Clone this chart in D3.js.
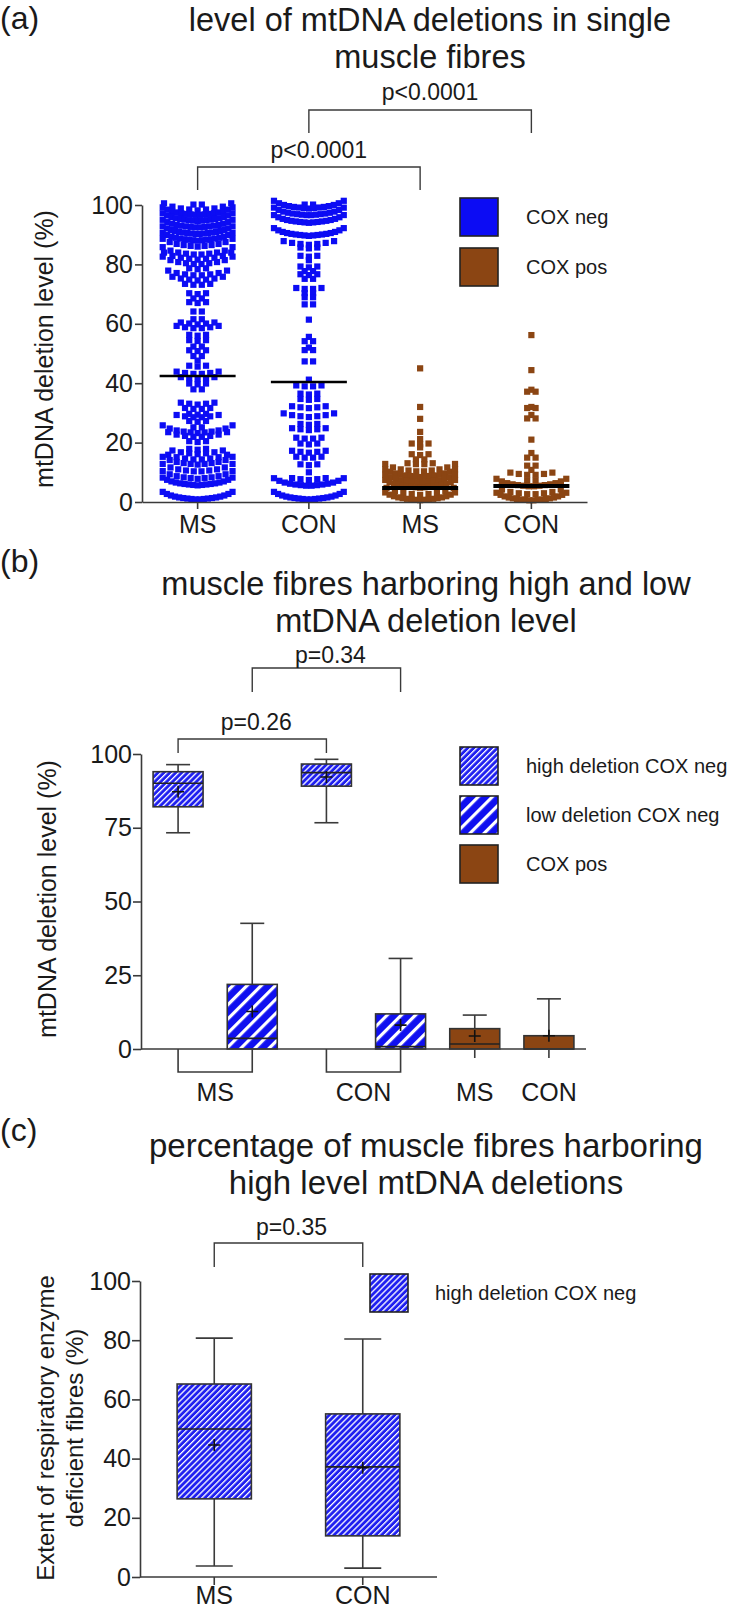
<!DOCTYPE html>
<html><head><meta charset="utf-8">
<script src="https://cdn.jsdelivr.net/npm/d3@7"></script>
<style>
body{margin:0;background:#fff}
text{font-family:"Liberation Sans",Arial,Helvetica,sans-serif;fill:#1a1a1a}
</style>
</head><body>
<svg id="c" width="741" height="1614"></svg>
<script>
// ---------------- DATA ----------------
// Panel (a): column scatter, rows as [deletion level %, number of fibres in the row]
const catsA = ["MS","CON","MS","CON"];
const seriesA = ["COX neg","COX neg","COX pos","COX pos"];
const msNeg = [[100,2],[98.2,9],[96.6,16],[94.6,17],[92.4,16],[90.2,18],[88,17],[86,11],
  [83.2,10],[81.6,9],[80,10],[78.4,3],[76.2,8],[74.6,7],[73,4],[70,3],[68.4,2],[67,3],[64,2],[61.4,2],
  [59.8,5],[58.4,6],[56,3],[54.2,3],[52.2,2],[50.8,3],[49,2],[47.6,1],[45.6,3],[43,6],[41.4,5],[39.6,3],[37.8,2],
  [32.8,5],[31.2,4],[29.4,3],[28.4,6],[27,3],[25,2],[23.2,11],[21.8,8],[20.2,3],[17.6,3],[16.1,7],[14.2,8],
  [12.6,11],[10.2,10],[7.8,11],[5.6,17],[0.8,18]];
const conNeg = [[100,2],[98.8,15],[96.5,16],[94,17],[89.6,17],[86.6,7],[85.4,3],[82.6,3],[81.4,1],[79,3],
  [77.6,2],[76.4,3],[75,2],[71.6,4],[70.2,2],[68.8,2],[66.4,2],[61.4,1],[55.6,1],[54,2],[52,1],[51,2],[47.2,2],
  [41.2,1],[38.8,4],[36.2,3],[34.4,3],[31.6,5],[28.6,7],[26,3],[24.2,5],[21.2,4],[19.4,3],[16.6,5],[14.8,4],
  [12.4,3],[10,1],[7.4,5],[5.4,14],[0.8,18]];
const msPos = [[45,1],[32,1],[28,1],[23.6,1],[21.2,1],[19.4,3],[18.4,1],[15.8,3],[14.2,2],[12.6,4],[10.2,10],
  [8.4,15],[6.6,14],[4.8,17],[2.4,9],[0.6,17]];
const conPos = [[56.2,1],[44.4,1],[37.8,1],[37,2],[32,1],[31.5,2],[29.3,1],[28,2],[21,1],[16.5,1],[14.8,2],
  [12.1,2],[10.8,1],[9,6],[7,2],[5.2,14],[2.5,8],[0.5,18]];
const meansA = [42.4, 40.4, 4.7, 5.4];
const ticksA = [0,20,40,60,80,100];
const legendA = ["COX neg","COX pos"];
const compA = [[1,3,"p<0.0001"],[0,2,"p<0.0001"]];

// Panel (b): box plots
const seriesB = ["high deletion COX neg","low deletion COX neg","high deletion COX neg","low deletion COX neg","COX pos","COX pos"];
const bMin  = [73.3, 0,    76.7, 0,    0,   0];
const bQ1   = [82.1, 0,    89.1, 0,    0,   0];
const bMed  = [90.1, 3.6,  93.7, 0.8,  1.7, 0];
const bQ3   = [94.0, 21.9, 96.6, 11.9, 6.9, 4.5];
const bMax  = [96.4, 42.6, 98.2, 30.7, 11.5,17.0];
const bMean = [87.2, 12.7, 92.2, 8.1,  4.4, 4.5];
const labelsB = ["MS","CON","MS","CON"];
const groupsB = [[0,1],[2,3],[4],[5]];
const ticksB = [0,25,50,75,100];
const legendB = ["high deletion COX neg","low deletion COX neg","COX pos"];
const compB = [[1,3,"p=0.34"],[0,2,"p=0.26"]];

// Panel (c): box plots
const catsC = ["MS","CON"];
const cMin  = [3.7, 3.0];
const cQ1   = [26.4, 13.9];
const cMed  = [50.0, 37.2];
const cQ3   = [65.2, 55.1];
const cMax  = [80.7, 80.4];
const cMean = [44.6, 36.9];
const ticksC = [0,20,40,60,80,100];
const legendC = ["high deletion COX neg"];
const compC = [[0,1,"p=0.35"]];

// ---------------- DRAWING ----------------
const svg = d3.select("#c");
const BLUE = "#0c0cf4", BROWN = "#8b4513", AX = "#3a3a3a";
const defs = svg.append("defs");
function hatch(id, size, sw, col){
  const p = defs.append("pattern").attr("id",id).attr("patternUnits","userSpaceOnUse")
    .attr("width",size).attr("height",size).attr("patternTransform","rotate(45)");
  p.append("rect").attr("width",size).attr("height",size).attr("fill",col);
  p.append("rect").attr("x",0).attr("y",0).attr("width",sw).attr("height",size).attr("fill","#fff");
}
hatch("fine", 4.2, 1.3, "#1f1ff0");
hatch("coarse", 10, 3.2, "#1010f0");
const fillOf = s => s.startsWith("high") ? "url(#fine)" : s.startsWith("low") ? "url(#coarse)" : BROWN;
const colorA = s => s === "COX neg" ? BLUE : BROWN;

function title(lines, cx, y0, fs, label, ly){
  svg.append("text").attr("x",0).attr("y",ly).attr("font-size",32).text(label);
  lines.forEach((t,i)=>svg.append("text").attr("x",cx).attr("y",y0+i*37)
    .attr("text-anchor","middle").attr("font-size",fs).text(t));
}
function styleAxis(g){
  g.selectAll("path,line").attr("stroke",AX).attr("stroke-width",1.6);
  g.selectAll("text").attr("font-size",25).attr("fill","#1a1a1a").attr("font-family",'"Liberation Sans",Arial,sans-serif');
}
function yTitle(lines, x, y, fs){
  lines.forEach((t,i)=>svg.append("text")
    .attr("transform",`translate(${x+i*29},${y}) rotate(-90)`)
    .attr("text-anchor","middle").attr("dy","0.35em").attr("font-size",fs).text(t));
}
function bracket(x1,x2,yTop,yLeg,label,ty,dx){
  svg.append("path").attr("d",`M${x1},${yLeg}V${yTop}H${x2}V${yLeg}`)
    .attr("fill","none").attr("stroke",AX).attr("stroke-width",1.4);
  svg.append("text").attr("x",(x1+x2)/2+dx).attr("y",ty).attr("text-anchor","middle")
    .attr("font-size",23).text(label);
}
function plus(cx,cy){
  svg.append("path").attr("d",`M${cx-6},${cy}H${cx+6}M${cx},${cy-6}V${cy+6}`)
    .attr("stroke","#111").attr("stroke-width",1.6);
}
function boxes(x, y, idx, mn,q1,md,q3,mx,mean, fills, capW){
  idx.forEach(i=>{
    const cx = x(i)+x.bandwidth()/2, bw = x.bandwidth();
    svg.append("line").attr("x1",cx).attr("x2",cx).attr("y1",y(q3[i])).attr("y2",y(mx[i])).attr("stroke",AX).attr("stroke-width",1.6);
    svg.append("line").attr("x1",cx-capW/2).attr("x2",cx+capW/2).attr("y1",y(mx[i])).attr("y2",y(mx[i])).attr("stroke",AX).attr("stroke-width",1.6);
    if (mn[i] < q1[i]) {
      svg.append("line").attr("x1",cx).attr("x2",cx).attr("y1",y(q1[i])).attr("y2",y(mn[i])).attr("stroke",AX).attr("stroke-width",1.6);
      svg.append("line").attr("x1",cx-capW/2).attr("x2",cx+capW/2).attr("y1",y(mn[i])).attr("y2",y(mn[i])).attr("stroke",AX).attr("stroke-width",1.6);
    }
    svg.append("rect").attr("x",x(i)).attr("y",y(q3[i])).attr("width",bw).attr("height",y(q1[i])-y(q3[i]))
      .attr("fill",fills[i]).attr("stroke","#333").attr("stroke-width",1.6);
    svg.append("line").attr("x1",x(i)).attr("x2",x(i)+bw).attr("y1",y(md[i])).attr("y2",y(md[i])).attr("stroke","#222").attr("stroke-width",1.6);
    plus(cx, y(mean[i]));
  });
}
function legend(items, fills, x, y0, step, tx){
  items.forEach((t,i)=>{
    svg.append("rect").attr("x",x).attr("y",y0+i*step).attr("width",38).attr("height",38)
      .attr("fill",fills[i]).attr("stroke","#222").attr("stroke-width",1.6);
    svg.append("text").attr("x",tx).attr("y",y0+i*step+26).attr("font-size",20).text(t);
  });
}

// ===== Panel (a) =====
title(["level of mtDNA deletions in single","muscle fibres"], 430, 31, 32.5, "(a)", 29);
const yA = d3.scaleLinear([0,100],[502,205]);
const xA = d3.scaleBand(d3.range(catsA.length),[142,587]);
const colsA = [msNeg, conNeg, msPos, conPos];
colsA.forEach((pairs,ci)=>{
  const cx = xA(ci)+xA.bandwidth()/2;
  const size = 6.2;
  const maxW = 76, half = maxW/2;
  const g = svg.append("g");
  pairs.forEach(([v,n])=>{
    const sp = n>1 ? Math.min(size+2.2,(maxW-size)/(n-1)) : 0;
    for(let k=0;k<n;k++){
      const off=(k-(n-1)/2)*sp;
      const u=Math.abs(off)/half;
      const tilt=Math.abs(off)*0.1 + 6*Math.pow(u,4);
      g.append("rect").attr("x",cx+off-size/2).attr("y",yA(v)-size/2-tilt)
        .attr("width",size).attr("height",size).attr("fill",colorA(seriesA[ci]));
    }
  });
  svg.append("line").attr("x1",cx-38).attr("x2",cx+38).attr("y1",yA(meansA[ci])).attr("y2",yA(meansA[ci]))
    .attr("stroke","#000").attr("stroke-width",seriesA[ci]==="COX neg"?2.5:4);
});
const gAy = svg.append("g").attr("transform","translate(142,0)")
  .call(d3.axisLeft(yA).tickValues(ticksA).tickSize(7).tickPadding(2).tickSizeOuter(0));
styleAxis(gAy);
const gAx = svg.append("g").attr("transform","translate(0,502)")
  .call(d3.axisBottom(xA).tickFormat(i=>catsA[i]).tickSize(7).tickPadding(6).tickSizeOuter(0));
styleAxis(gAx);
yTitle(["mtDNA deletion level (%)"], 44, 349, 25);
legend(legendA, legendA.map(colorA), 460, 198, 50, 526);
const levelsA = [[110,133,100],[167,190,158]];
compA.forEach(([a,b,l],i)=>bracket(xA(a)+xA.bandwidth()/2, xA(b)+xA.bandwidth()/2, levelsA[i][0], levelsA[i][1], l, levelsA[i][2], 10));

// ===== Panel (b) =====
title(["muscle fibres harboring high and low","mtDNA deletion level"], 426, 595, 32.5, "(b)", 572);
const yB = d3.scaleLinear([0,100],[1049,754]);
const xB = d3.scaleBand(d3.range(seriesB.length),[141,586]).paddingInner(0.326).paddingOuter(0.163);
boxes(xB, yB, d3.range(seriesB.length), bMin,bQ1,bMed,bQ3,bMax,bMean, seriesB.map(fillOf), 24);
const gBy = svg.append("g").attr("transform","translate(141,0)")
  .call(d3.axisLeft(yB).tickValues(ticksB).tickSize(8).tickPadding(1).tickSizeOuter(0));
styleAxis(gBy);
svg.append("line").attr("x1",141).attr("x2",586).attr("y1",yB(0)).attr("y2",yB(0)).attr("stroke",AX).attr("stroke-width",1.6);
const cB = i => xB(i)+xB.bandwidth()/2;
groupsB.forEach((grp,gi)=>{
  const xs = grp.map(cB);
  if (grp.length>1) {
    svg.append("path").attr("d",`M${xs[0]},${yB(0)}V${yB(0)+23}H${xs[1]}V${yB(0)}`)
      .attr("fill","none").attr("stroke",AX).attr("stroke-width",1.6);
  } else {
    svg.append("line").attr("x1",xs[0]).attr("x2",xs[0]).attr("y1",yB(0)).attr("y2",yB(0)+9).attr("stroke",AX).attr("stroke-width",1.6);
  }
  svg.append("text").attr("x",d3.mean(xs)).attr("y",1101).attr("text-anchor","middle").attr("font-size",25).text(labelsB[gi]);
});
yTitle(["mtDNA deletion  level (%)"], 47, 899, 25);
legend(legendB, legendB.map(fillOf), 460, 747, 49, 526);
const levelsB = [[668,692,663],[739,753,730]];
compB.forEach(([a,b,l],i)=>bracket(cB(a), cB(b), levelsB[i][0], levelsB[i][1], l, levelsB[i][2], 4));

// ===== Panel (c) =====
title(["percentage of muscle fibres harboring","high level mtDNA deletions"], 426, 1157, 33, "(c)", 1141);
const yC = d3.scaleLinear([0,100],[1577,1281]);
const xC = d3.scaleBand(d3.range(catsC.length),[140,437]).paddingInner(0.5).paddingOuter(0.25);
boxes(xC, yC, d3.range(catsC.length), cMin,cQ1,cMed,cQ3,cMax,cMean, catsC.map(()=>fillOf(legendC[0])), 37);
const gCy = svg.append("g").attr("transform","translate(140,0)")
  .call(d3.axisLeft(yC).tickValues(ticksC).tickSize(8).tickPadding(1).tickSizeOuter(0));
styleAxis(gCy);
const gCx = svg.append("g").attr("transform",`translate(0,${yC(0)})`)
  .call(d3.axisBottom(xC).tickFormat(i=>catsC[i]).tickSize(8).tickPadding(1).tickSizeOuter(0));
gCx.select(".domain").attr("d","M140,0H437");
styleAxis(gCx);
yTitle(["Extent of respiratory enzyme","deficient fibres (%)"], 46, 1428, 24);
legend(legendC, legendC.map(fillOf), 370, 1274, 50, 435);
compC.forEach(([a,b,l])=>bracket(xC(a)+xC.bandwidth()/2, xC(b)+xC.bandwidth()/2, 1243, 1267, l, 1235, 3));
</script>
</body></html>
